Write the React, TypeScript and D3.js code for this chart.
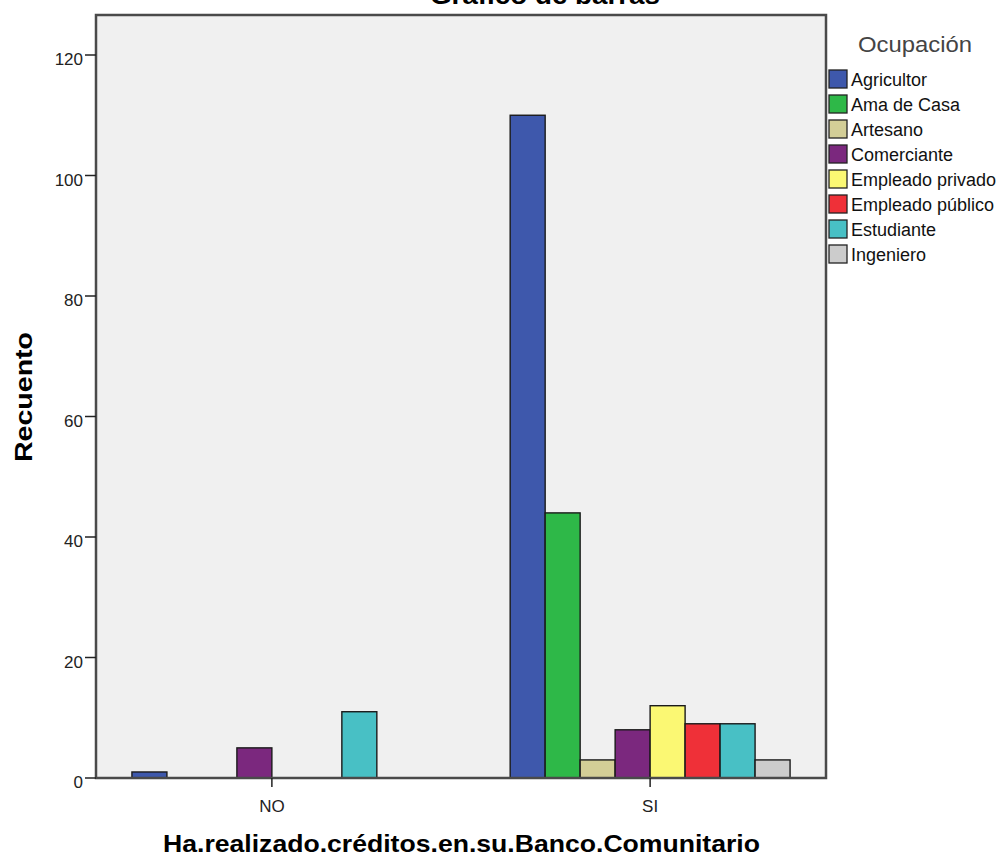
import React from "react";
import * as d3 from "d3";

const groups = ["NO", "SI"];
const occupations = [
  "Agricultor",
  "Ama de Casa",
  "Artesano",
  "Comerciante",
  "Empleado privado",
  "Empleado público",
  "Estudiante",
  "Ingeniero",
];
const colors = ["#3E58AC", "#2EB848", "#D3CE97", "#7B287E", "#FBF873", "#EF3038", "#48C0C5", "#CCCCCC"];
const valuesNO = [1, 0, 0, 5, 0, 0, 11, 0];
const valuesSI = [110, 44, 3, 8, 12, 9, 9, 3];
const yTicks = [0, 20, 40, 60, 80, 100, 120];

const W = 1005;
const H = 860;
const left = 96, right = 826, top = 15, bottom = 778;
const font = "'Liberation Sans', Arial, sans-serif";

export default function App() {
  const x = d3.scaleBand<string>().domain(groups).range([left, right]).paddingInner(0.26).paddingOuter(0.095);
  const xi = d3.scaleBand<string>().domain(occupations).range([0, x.bandwidth()]).padding(0);
  const y = d3.scaleLinear().domain([0, 120]).range([bottom, 55]);
  const series = [valuesNO, valuesSI];

  return (
    <svg width={W} height={H} style={{ display: "block", position: "absolute", left: 0, top: 0 }} fontFamily={font}>
      <rect x={0} y={0} width={W} height={H} fill="#fff" />
      <text x={545} y={4} textAnchor="middle" fontWeight="bold" fontSize={26} fill="#000" textLength={230} lengthAdjust="spacingAndGlyphs">
        Gráfico de barras
      </text>
      <rect x={left} y={top} width={right - left} height={bottom - top} fill="#F0F0F0" />
      {groups.map((g, gi) =>
        occupations.map((o, oi) => {
          const v = series[gi][oi];
          if (!v) return null;
          return (
            <rect
              key={g + o}
              x={(x(g) as number) + (xi(o) as number)}
              y={y(v)}
              width={xi.bandwidth()}
              height={y(0) - y(v)}
              fill={colors[oi]}
              stroke="#1a1a1a"
              strokeWidth={1.4}
            />
          );
        })
      )}
      <rect x={left} y={top} width={right - left} height={bottom - top} fill="none" stroke="#4a4a4a" strokeWidth={2.5} />
      {yTicks.map((t) => (
        <g key={t}>
          <line x1={left - 11} x2={left} y1={y(t)} y2={y(t)} stroke="#222" strokeWidth={1.5} />
          <text x={83} y={y(t) + 10} textAnchor="end" fontSize={17} fill="#222">
            {t}
          </text>
        </g>
      ))}
      {groups.map((g) => {
        const cx = (x(g) as number) + x.bandwidth() / 2;
        return (
          <g key={g}>
            <line x1={cx} x2={cx} y1={bottom} y2={bottom + 9} stroke="#222" strokeWidth={1.5} />
            <text x={cx} y={812} textAnchor="middle" fontSize={17} fill="#222">
              {g}
            </text>
          </g>
        );
      })}
      <text x={461.5} y={852} textAnchor="middle" fontWeight="bold" fontSize={24} fill="#000" textLength={597} lengthAdjust="spacingAndGlyphs">
        Ha.realizado.créditos.en.su.Banco.Comunitario
      </text>
      <text
        transform={`translate(32, 397) rotate(-90)`}
        textAnchor="middle"
        fontWeight="bold"
        fontSize={24}
        fill="#000"
        textLength={130}
        lengthAdjust="spacingAndGlyphs"
      >
        Recuento
      </text>
      <text x={915} y={52} textAnchor="middle" fontSize={22} fill="#444" textLength={114} lengthAdjust="spacingAndGlyphs">
        Ocupación
      </text>
      {occupations.map((o, i) => {
        const cy = 79 + i * 25;
        return (
          <g key={o}>
            <rect x={829} y={cy - 9} width={18} height={18} fill={colors[i]} stroke="#222" strokeWidth={1.3} />
            <text x={851} y={cy + 6.5} fontSize={18} fill="#111">
              {o}
            </text>
          </g>
        );
      })}
    </svg>
  );
}
